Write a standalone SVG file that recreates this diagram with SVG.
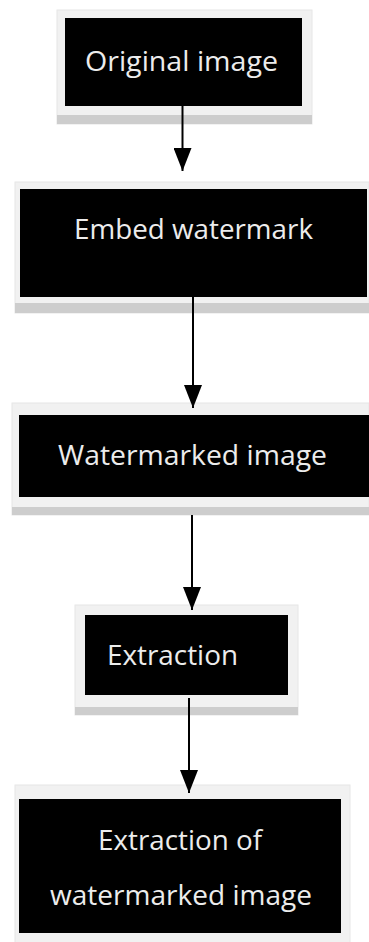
<svg xmlns="http://www.w3.org/2000/svg" width="369" height="942" viewBox="0 0 369 942">
<style>
.frame{fill:#f1f1f1;stroke:#e6e6e6;stroke-width:1}
.band{fill:#cdcdcd}
.box{fill:#000}
.lbl{font-family:"Open Sans","Lato",sans-serif;font-size:28px;fill:#ececec;text-anchor:middle}
.conn{stroke:#000;stroke-width:2;fill:none}
</style>
<defs>
<marker id="ah" markerUnits="userSpaceOnUse" markerWidth="24" markerHeight="18" viewBox="0 0 24 18" refX="23" refY="9" orient="auto">
<path d="M0,0 L23,9 L0,18 Z" fill="#000"/>
</marker>
</defs>
<rect width="369" height="942" fill="#fff"/>
<g id="n1">
<rect class="frame" x="57" y="10" width="255" height="114"/>
<rect class="band" x="57" y="115" width="255" height="9"/>
<rect class="box" x="65" y="18" width="237" height="88"/>
<text class="lbl" x="181.5" y="71" textLength="193" lengthAdjust="spacingAndGlyphs">Original image</text>
</g>
<g id="n2">
<rect class="frame" x="15" y="182" width="354" height="131"/>
<rect class="band" x="15" y="303" width="354" height="10"/>
<rect class="box" x="20" y="189" width="347" height="108"/>
<text class="lbl" x="193.5" y="239" textLength="239" lengthAdjust="spacingAndGlyphs">Embed watermark</text>
</g>
<g id="n3">
<rect class="frame" x="12" y="403" width="357" height="112"/>
<rect class="band" x="12" y="507" width="357" height="8"/>
<rect class="box" x="19" y="415" width="350" height="82"/>
<text class="lbl" x="192.5" y="465" textLength="269" lengthAdjust="spacingAndGlyphs">Watermarked image</text>
</g>
<g id="n4">
<rect class="frame" x="75" y="605" width="223" height="110"/>
<rect class="band" x="75" y="707" width="223" height="8"/>
<rect class="box" x="85" y="615" width="203" height="80"/>
<text class="lbl" x="172.5" y="665" textLength="131" lengthAdjust="spacingAndGlyphs">Extraction</text>
</g>
<g id="n5">
<rect class="frame" x="15" y="785" width="335" height="160"/>
<rect class="box" x="19" y="799" width="322" height="134"/>
<text class="lbl" x="180" y="850" textLength="164" lengthAdjust="spacingAndGlyphs">Extraction of</text>
<text class="lbl" x="181" y="905" textLength="262" lengthAdjust="spacingAndGlyphs">watermarked image</text>
</g>
<g id="connectors">
<line class="conn" x1="182.5" y1="106" x2="182.5" y2="171" marker-end="url(#ah)"/>
<line class="conn" x1="193" y1="297" x2="193" y2="408" marker-end="url(#ah)"/>
<line class="conn" x1="192" y1="515" x2="192" y2="610" marker-end="url(#ah)"/>
<line class="conn" x1="189" y1="698" x2="189" y2="793" marker-end="url(#ah)"/>
</g>
</svg>
